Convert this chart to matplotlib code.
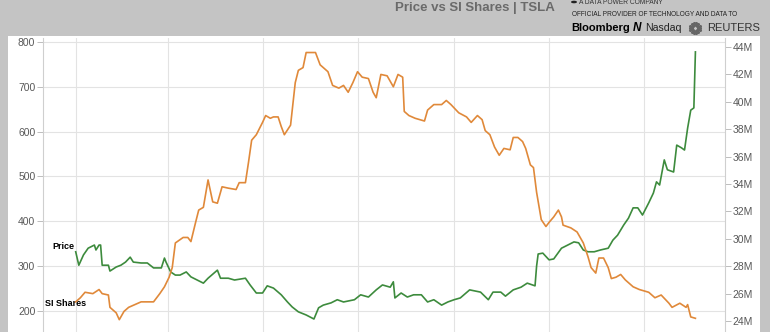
import numpy as np
import pandas as pd
import matplotlib
matplotlib.use("Agg")
import matplotlib.pyplot as plt
import matplotlib.dates as mdates
from matplotlib.patches import Rectangle, Circle

plt.rcParams["font.family"] = ["Liberation Sans", "DejaVu Sans"]

# TSLA close price (left axis, USD)
price_dates = [
    "2019-01-01", "2019-01-03", "2019-01-06", "2019-01-09", "2019-01-13", "2019-01-14",
    "2019-01-16", "2019-01-17", "2019-01-18", "2019-01-22", "2019-01-23", "2019-01-27",
    "2019-01-30", "2019-02-02", "2019-02-05", "2019-02-07", "2019-02-12", "2019-02-16",
    "2019-02-20", "2019-02-25", "2019-02-27", "2019-02-28", "2019-03-03", "2019-03-06",
    "2019-03-09", "2019-03-13", "2019-03-16", "2019-03-20", "2019-03-24", "2019-03-27",
    "2019-03-31", "2019-04-02", "2019-04-04", "2019-04-09", "2019-04-13", "2019-04-20",
    "2019-04-23", "2019-04-27", "2019-05-01", "2019-05-04", "2019-05-08", "2019-05-13",
    "2019-05-17", "2019-05-20", "2019-05-24", "2019-05-29", "2019-06-03", "2019-06-06",
    "2019-06-09", "2019-06-14", "2019-06-18", "2019-06-22", "2019-06-29", "2019-07-03",
    "2019-07-08", "2019-07-13", "2019-07-17", "2019-07-22", "2019-07-24", "2019-07-25",
    "2019-07-29", "2019-08-02", "2019-08-06", "2019-08-11", "2019-08-15", "2019-08-19",
    "2019-08-24", "2019-08-28", "2019-09-01", "2019-09-05", "2019-09-11", "2019-09-18",
    "2019-09-23", "2019-09-26", "2019-10-01", "2019-10-04", "2019-10-09", "2019-10-14",
    "2019-10-18", "2019-10-23", "2019-10-24", "2019-10-25", "2019-10-28", "2019-11-01",
    "2019-11-04", "2019-11-09", "2019-11-13", "2019-11-17", "2019-11-20", "2019-11-23",
    "2019-11-26", "2019-11-30", "2019-12-04", "2019-12-09", "2019-12-12", "2019-12-15",
    "2019-12-19", "2019-12-22", "2019-12-25", "2019-12-28", "2019-12-31", "2020-01-04",
    "2020-01-07", "2020-01-09", "2020-01-11", "2020-01-14", "2020-01-16", "2020-01-20",
    "2020-01-22", "2020-01-25", "2020-01-27", "2020-01-29", "2020-01-31", "2020-02-02",
    "2020-02-03",
]
price_values = [
    332, 302, 325, 340, 347, 336,
    347, 347, 302, 302, 289, 298,
    302, 309, 320, 309, 307, 307,
    296, 296, 318, 309, 287, 280,
    280, 287, 276, 269, 262, 273,
    285, 291, 273, 273, 269, 273,
    258, 240, 240, 256, 251, 236,
    220, 209, 198, 191, 182, 207,
    213, 218, 225, 220, 225, 236,
    231, 247, 258, 253, 265, 229,
    240, 231, 236, 236, 220, 225,
    213, 220, 225, 229, 247, 242,
    225, 242, 242, 233, 247, 253,
    262, 256, 300, 327, 329, 314,
    316, 340, 347, 354, 352, 336,
    332, 332, 336, 340, 358, 369,
    392, 407, 430, 430, 414, 441,
    463, 488, 481, 537, 515, 510,
    570, 564, 559, 608, 648, 653,
    778,
]

# Short interest, shares (right axis, millions)
si_dates = [
    "2019-01-01", "2019-01-04", "2019-01-07", "2019-01-12", "2019-01-16", "2019-01-18",
    "2019-01-22", "2019-01-23", "2019-01-27", "2019-01-29", "2019-02-01", "2019-02-04",
    "2019-02-08", "2019-02-12", "2019-02-17", "2019-02-20", "2019-02-24", "2019-02-27",
    "2019-03-02", "2019-03-04", "2019-03-06", "2019-03-11", "2019-03-14", "2019-03-16",
    "2019-03-19", "2019-03-21", "2019-03-24", "2019-03-27", "2019-03-30", "2019-04-02",
    "2019-04-05", "2019-04-09", "2019-04-14", "2019-04-16", "2019-04-20", "2019-04-22",
    "2019-04-24", "2019-04-27", "2019-05-01", "2019-05-03", "2019-05-06", "2019-05-08",
    "2019-05-11", "2019-05-13", "2019-05-15", "2019-05-19", "2019-05-22", "2019-05-24",
    "2019-05-27", "2019-05-29", "2019-06-04", "2019-06-07", "2019-06-12", "2019-06-15",
    "2019-06-19", "2019-06-22", "2019-06-25", "2019-06-28", "2019-07-01", "2019-07-04",
    "2019-07-08", "2019-07-11", "2019-07-13", "2019-07-16", "2019-07-20", "2019-07-24",
    "2019-07-27", "2019-07-30", "2019-07-31", "2019-08-03", "2019-08-07", "2019-08-13",
    "2019-08-15", "2019-08-19", "2019-08-24", "2019-08-27", "2019-08-30", "2019-09-04",
    "2019-09-09", "2019-09-12", "2019-09-16", "2019-09-19", "2019-09-21", "2019-09-24",
    "2019-09-27", "2019-09-30", "2019-10-03", "2019-10-07", "2019-10-09", "2019-10-12",
    "2019-10-15", "2019-10-17", "2019-10-20", "2019-10-22", "2019-10-24", "2019-10-27",
    "2019-10-30", "2019-11-01", "2019-11-04", "2019-11-07", "2019-11-09", "2019-11-10",
    "2019-11-15", "2019-11-19", "2019-11-23", "2019-11-26", "2019-11-28", "2019-12-01",
    "2019-12-03", "2019-12-06", "2019-12-09", "2019-12-11", "2019-12-14", "2019-12-17",
    "2019-12-20", "2019-12-25", "2019-12-29", "2020-01-04", "2020-01-08", "2020-01-12",
    "2020-01-17", "2020-01-19", "2020-01-24", "2020-01-28", "2020-01-29", "2020-01-31",
    "2020-02-03",
]
si_values = [
    25.4, 25.7, 26.1, 26.0, 26.3, 26.0,
    25.9, 25.0, 24.6, 24.1, 24.7, 25.0,
    25.2, 25.4, 25.4, 25.4, 26.0, 26.5,
    27.2, 27.9, 29.7, 30.1, 30.1, 29.8,
    31.2, 32.1, 32.3, 34.3, 32.7, 32.6,
    33.8, 33.7, 33.6, 34.1, 34.1, 35.6,
    37.2, 37.6, 38.5, 39.0, 38.8, 38.9,
    38.9, 38.2, 37.6, 38.3, 41.4, 42.3,
    42.5, 43.6, 43.6, 42.7, 42.2, 41.2,
    41.0, 41.2, 40.7, 41.4, 42.2, 41.8,
    41.7, 40.7, 40.3, 42.0, 41.9, 41.1,
    42.0, 41.8, 39.3, 39.0, 38.8, 38.6,
    39.4, 39.8, 39.8, 40.1, 39.8, 39.2,
    38.9, 38.5, 39.0, 38.7, 37.9, 37.6,
    36.7, 36.1, 36.6, 36.5, 37.4, 37.4,
    37.1, 36.6, 35.4, 35.2, 33.4, 31.4,
    30.9, 31.2, 31.6, 32.1, 31.6, 31.0,
    30.8, 30.5, 29.7, 28.7, 27.9, 27.5,
    28.6, 28.6, 27.9, 27.1, 27.2, 27.4,
    27.0, 26.5, 26.3, 26.1, 25.7, 25.9,
    25.3, 25.0, 25.3, 25.0, 25.2, 24.3,
    24.2,
]

price_ticks = [200, 300, 400, 500, 600, 700, 800]
si_ticks = [24, 26, 28, 30, 32, 34, 36, 38, 40, 42, 44]

GREEN = "#3d8b3d"
ORANGE = "#e0893a"
GREY_BG = "#c4c4c4"
GRID = "#e3e3e3"
TICK_TXT = "#585858"

W, H = 770, 332
fig = plt.figure(figsize=(W / 100, H / 100), dpi=100, facecolor=GREY_BG)

# white chart panel, kept behind the axes
fig.patches.append(Rectangle((8 / W, 0), 752 / W, 1 - 36 / H, transform=fig.transFigure,
                             facecolor="white", edgecolor="none", zorder=-5))

ax = fig.add_axes([43 / W, 0, 682 / W, 1 - 38 / H])
ax.set_facecolor("none")
ax2 = ax.twinx()

pdates = pd.to_datetime(price_dates)
sdates = pd.to_datetime(si_dates)

ax.plot(pdates, price_values, color=GREEN, lw=1.2, zorder=3)
ax2.plot(sdates, si_values, color=ORANGE, lw=1.2, zorder=3)

ax.set_xlim(pd.Timestamp("2018-12-11"), pd.Timestamp("2020-02-22"))
ax.set_ylim(153, 809)
ax2.set_ylim(23.2, 44.66)

ax.set_yticks(price_ticks)
ax.set_yticklabels([str(v) for v in price_ticks])
ax2.set_yticks(si_ticks)
ax2.set_yticklabels([f"{v}M" for v in si_ticks])

ax.xaxis.set_major_locator(mdates.MonthLocator(bymonth=[1, 3, 5, 7, 9, 11]))
ax.tick_params(axis="x", length=0, labelbottom=False)
ax.grid(True, color=GRID, lw=0.8)
ax.set_axisbelow(True)

for a in (ax, ax2):
    for side in ("top", "bottom"):
        a.spines[side].set_visible(False)
    a.spines["left"].set_color("#cfcfcf")
    a.spines["right"].set_color("#cfcfcf")
    a.tick_params(axis="y", length=4, width=0.7, color="#bdbdbd",
                  labelsize=7.5, labelcolor=TICK_TXT, pad=1.5)
ax.spines["right"].set_visible(False)
ax2.spines["left"].set_visible(False)

# series labels
ax.text(pd.Timestamp("2018-12-17"), 344, "Price", fontsize=6.5, fontweight="bold",
        color="black", ha="left", va="center")
ax.text(pd.Timestamp("2018-12-12"), 216, "SI Shares", fontsize=6.5, fontweight="bold",
        color="black", ha="left", va="center")

# header
fig.text(475 / W, 1 - 8 / H, "Price vs SI Shares | TSLA",
         fontsize=9.5, fontweight="bold", color="#6a6a6a", ha="center", va="center")
fig.patches.append(Circle((574 / W, 1 - 2 / H), 3 / W, transform=fig.transFigure,
                          facecolor="#222222", edgecolor="none"))
fig.text(579 / W, 1 - 2 / H, "A DATA POWER COMPANY", fontsize=4.8, color="#333333",
         ha="left", va="center")
fig.text(572 / W, 1 - 14 / H, "OFFICIAL PROVIDER OF TECHNOLOGY AND DATA TO",
         fontsize=4.7, color="#222222", ha="left", va="center")
fig.text(571 / W, 1 - 28 / H, "Bloomberg", fontsize=8, fontweight="bold", color="black",
         ha="left", va="center")
fig.text(633 / W, 1 - 28 / H, "N", fontsize=8.5, fontweight="bold", style="italic",
         color="black", ha="left", va="center")
fig.text(645 / W, 1 - 28 / H, "Nasdaq", fontsize=7.6, color="#222222", ha="left", va="center")
ang = np.linspace(0, 2 * np.pi, 14, endpoint=False)
for r in (5, 3):
    fig.lines.append(plt.Line2D((695 + r * np.cos(ang)) / W, (1 - (28 + r * np.sin(ang)) / H),
                                transform=fig.transFigure, ls="none", marker="o",
                                ms=1.2, color="#666666"))
fig.text(707 / W, 1 - 28 / H, "REUTERS", fontsize=8, color="#333333", ha="left", va="center")

fig.savefig("out.png", dpi=100, facecolor=GREY_BG)
